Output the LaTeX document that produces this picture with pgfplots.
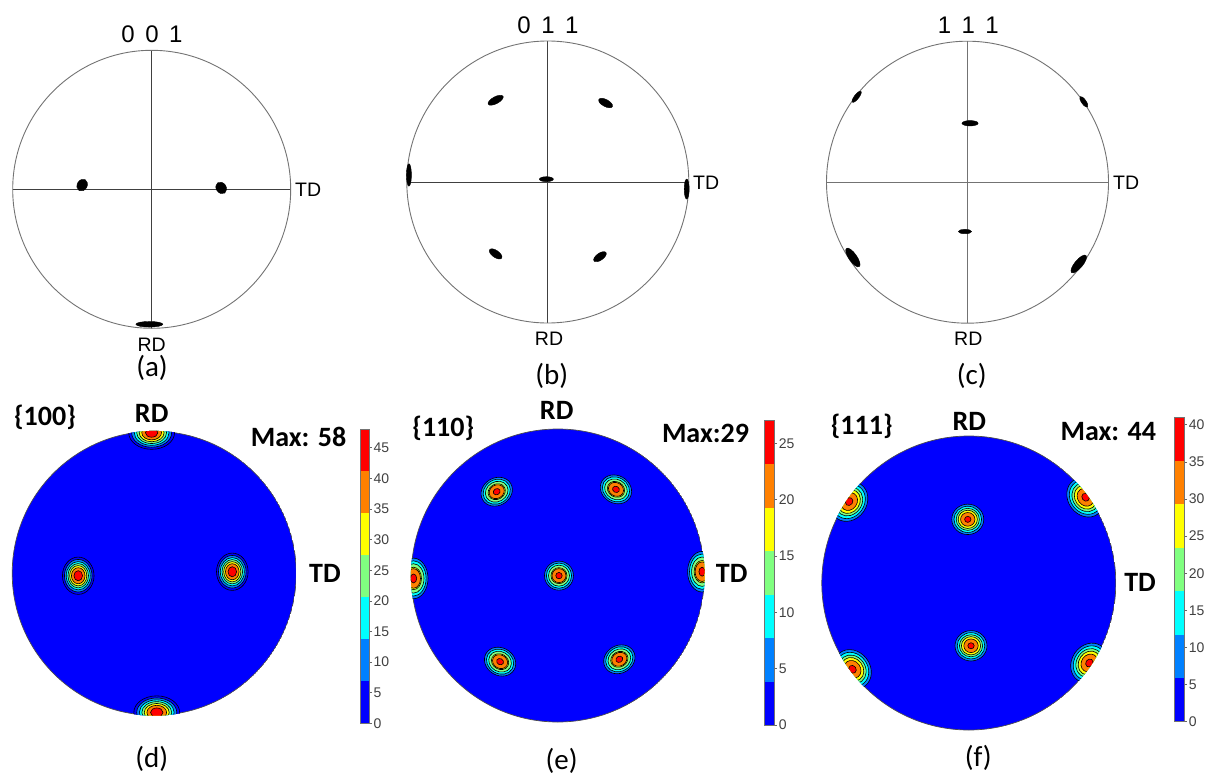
\documentclass[border=0pt]{standalone}
\usepackage{pgfplots}
\pgfplotsset{compat=1.18}
\usepackage{fontspec}
\setmainfont{Liberation Sans}
\newfontfamily\calfont{Carlito}

\definecolor{cA}{RGB}{0,0,255}
\definecolor{cB}{RGB}{0,128,255}
\definecolor{cC}{RGB}{0,255,255}
\definecolor{cD}{RGB}{128,255,128}
\definecolor{cE}{RGB}{255,255,0}
\definecolor{cF}{RGB}{255,128,0}
\definecolor{cG}{RGB}{255,0,0}

\pgfplotsset{
  pole/.style={scale only axis, width=#1pt, height=#1pt, anchor=center,
    xmin=-1, xmax=1, ymin=-1, ymax=1, hide axis, clip=false},
  cbar/.style={scale only axis, anchor=south west, xmin=0, xmax=1, ymin=0,
    xtick=\empty, ytick pos=right, tick align=outside, major tick length=2.5pt,
    axis line style={black!55, line width=0.5pt},
    tick style={black!60, line width=0.5pt},
    yticklabel style={font=\fontsize{14}{16}\selectfont, text=black!75, inner sep=1.5pt},
    /pgf/number format/assume math mode=true, axis on top},
  blob/.style={only marks, mark=*, mark size=#1, mark options={fill=black, draw=black, line width=0.3pt}},
}

% contour rings: #1 = mark transform, #2 = coordinates
\newcommand{\rings}[2]{%
  \addplot[only marks, mark=*, mark size=\rA, mark options={#1, fill=cA, draw=black, line width=0.6pt}] coordinates {#2};
  \addplot[only marks, mark=*, mark size=\rB, mark options={#1, fill=cB, draw=black, line width=0.6pt}] coordinates {#2};
  \addplot[only marks, mark=*, mark size=\rC, mark options={#1, fill=cC, draw=black, line width=0.6pt}] coordinates {#2};
  \addplot[only marks, mark=*, mark size=\rD, mark options={#1, fill=cD, draw=black, line width=0.6pt}] coordinates {#2};
  \addplot[only marks, mark=*, mark size=\rE, mark options={#1, fill=cE, draw=black, line width=0.6pt}] coordinates {#2};
  \addplot[only marks, mark=*, mark size=\rF, mark options={#1, fill=cF, draw=black, line width=0.6pt}] coordinates {#2};
  \addplot[only marks, mark=*, mark size=\rG, mark options={#1, fill=cG, draw=black, line width=0.6pt}] coordinates {#2};
}

\begin{document}
\begin{tikzpicture}
\path[use as bounding box] (0pt,0pt) rectangle (1215pt,-776pt);

% ---------------- (a) 001 ----------------
\begin{axis}[pole=278, at={(151.7pt,-189.3pt)}]
  \addplot[black!75, line width=0.9pt] coordinates {(-1,0) (1,0)};
  \addplot[black!75, line width=0.9pt] coordinates {(0,-1) (0,1)};
  \draw[black!55, line width=0.9pt] (axis cs:0,0) circle[radius=1];
  \addplot[blob=5, mark options={rotate=60, xscale=1.25}] coordinates {(-0.50,0.03)};
  \addplot[blob=5, mark options={rotate=-55, xscale=1.25}] coordinates {(0.50,0.01)};
  \addplot[blob=2.8, mark options={xscale=4.8}] coordinates {(-0.017,-0.971)};
\end{axis}

% ---------------- (b) 011 ----------------
\begin{axis}[pole=282, at={(547.8pt,-182pt)}]
  \addplot[black!75, line width=0.9pt] coordinates {(-1,0) (1,0)};
  \addplot[black!75, line width=0.9pt] coordinates {(0,-1) (0,1)};
  \draw[black!55, line width=0.9pt] (axis cs:0,0) circle[radius=1];
  \addplot[blob=3.5, mark options={rotate=28, xscale=2.4}] coordinates {(-0.37,0.58)};
  \addplot[blob=3.5, mark options={rotate=-28, xscale=2.2}] coordinates {(0.41,0.56)};
  \addplot[blob=2.5, mark options={xscale=2.8}] coordinates {(-0.01,0.02)};
  \addplot[blob=2.5, mark options={yscale=4.5}] coordinates {(-0.985,0.05)};
  \addplot[blob=2.5, mark options={yscale=4}] coordinates {(0.985,-0.05)};
  \addplot[blob=3.5, mark options={rotate=-35, xscale=2.1}] coordinates {(-0.37,-0.51)};
  \addplot[blob=3.5, mark options={rotate=35, xscale=2.1}] coordinates {(0.37,-0.53)};
\end{axis}

% ---------------- (c) 111 ----------------
\begin{axis}[pole=282, at={(967.5pt,-182.2pt)}]
  \addplot[black!55, line width=0.8pt] coordinates {(-1,0) (1,0)};
  \addplot[black!55, line width=0.8pt] coordinates {(0,-1) (0,1)};
  \draw[black!55, line width=0.9pt] (axis cs:0,0) circle[radius=1];
  \addplot[blob=2.3, mark options={rotate=52, xscale=3}] coordinates {(-0.786,0.606)};
  \addplot[blob=2.3, mark options={rotate=-55, xscale=2.8}] coordinates {(0.825,0.57)};
  \addplot[blob=2.7, mark options={xscale=3}] coordinates {(0.018,0.418)};
  \addplot[blob=2.2, mark options={xscale=3}] coordinates {(-0.018,-0.35)};
  \addplot[blob=4, mark options={rotate=-55, xscale=2.8}] coordinates {(-0.813,-0.534)};
  \addplot[blob=4, mark options={rotate=50, xscale=2.8}] coordinates {(0.789,-0.58)};
\end{axis}

% ---------------- (d) {100} ----------------
\def\rA{15.8}\def\rB{13.8}\def\rC{12.0}\def\rD{10.3}\def\rE{8.6}\def\rF{6.8}\def\rG{4.3}
\begin{scope}
\clip (154.2pt,-573.3pt) circle (142.4pt);
\begin{axis}[pole=284, at={(154.2pt,-573.3pt)}]
  \fill[cA] (axis cs:0,0) circle[radius=1];
  \rings{yscale=1.18}{(-0.535,-0.017) (0.55,0.011)}
  \rings{xscale=1.45, yscale=1.05}{(-0.018,0.99) (0.018,-0.98)}
  \draw[black!70, line width=0.7pt] (axis cs:0,0) circle[radius=1];
\end{axis}
\end{scope}

% ---------------- (e) {110} ----------------
\def\rA{1}\def\rB{14.5}\def\rC{12.6}\def\rD{10.5}\def\rE{8.0}\def\rF{7.0}\def\rG{3.2}
\begin{scope}
\clip (557.8pt,-575.5pt) circle (146.9pt);
\begin{axis}[pole=293, at={(557.8pt,-575.5pt)}]
  \fill[cA] (axis cs:0,0) circle[radius=1];
  \rings{scale=1}{(0.008,-0.001)}
  \rings{rotate=30, xscale=1.12, yscale=0.95}{(-0.417,0.572) (0.42,-0.572)}
  \rings{rotate=-30, xscale=1.12, yscale=0.95}{(0.397,0.588) (-0.394,-0.588)}
  \rings{yscale=1.4}{(-0.985,-0.02) (0.985,0.026)}
  \draw[black!70, line width=0.7pt] (axis cs:0,0) circle[radius=1];
\end{axis}
\end{scope}

% ---------------- (f) {111} ----------------
\def\rA{1}\def\rB{16}\def\rC{13.8}\def\rD{11.6}\def\rE{9.6}\def\rF{7.2}\def\rG{3.2}
\begin{scope}
\clip (968.8pt,-583pt) circle (147.4pt);
\begin{axis}[pole=294, at={(968.8pt,-583pt)}]
  \fill[cA] (axis cs:0,0) circle[radius=1];
  \rings{yscale=0.95}{(-0.007,0.433) (0.015,-0.427)}
  \rings{rotate=55, xscale=1.3, yscale=1.1}{(-0.814,0.554)}
  \rings{rotate=-54, xscale=1.3, yscale=1.1}{(0.794,0.583)}
  \rings{rotate=-53, xscale=1.3, yscale=1.1}{(-0.791,-0.587)}
  \rings{rotate=56, xscale=1.3, yscale=1.1}{(0.82,-0.544)}
  \draw[black!70, line width=0.7pt] (axis cs:0,0) circle[radius=1];
\end{axis}
\end{scope}

% ---------------- colour bars ----------------
\begin{axis}[cbar, at={(360pt,-723.3pt)}, width=9.3pt, height=294pt, ymax=48, ytick={0,5,...,45}]
  \addplot[fill=cA, draw=none] coordinates {(0,0) (1,0) (1,6.857) (0,6.857)} -- cycle;
  \addplot[fill=cB, draw=none] coordinates {(0,6.857) (1,6.857) (1,13.714) (0,13.714)} -- cycle;
  \addplot[fill=cC, draw=none] coordinates {(0,13.714) (1,13.714) (1,20.571) (0,20.571)} -- cycle;
  \addplot[fill=cD, draw=none] coordinates {(0,20.571) (1,20.571) (1,27.429) (0,27.429)} -- cycle;
  \addplot[fill=cE, draw=none] coordinates {(0,27.429) (1,27.429) (1,34.286) (0,34.286)} -- cycle;
  \addplot[fill=cF, draw=none] coordinates {(0,34.286) (1,34.286) (1,41.143) (0,41.143)} -- cycle;
  \addplot[fill=cG, draw=none] coordinates {(0,41.143) (1,41.143) (1,48) (0,48)} -- cycle;
\end{axis}

\begin{axis}[cbar, at={(764.3pt,-725pt)}, width=10.4pt, height=304.3pt, ymax=27, ytick={0,5,...,25}]
  \addplot[fill=cA, draw=none] coordinates {(0,0) (1,0) (1,3.857) (0,3.857)} -- cycle;
  \addplot[fill=cB, draw=none] coordinates {(0,3.857) (1,3.857) (1,7.714) (0,7.714)} -- cycle;
  \addplot[fill=cC, draw=none] coordinates {(0,7.714) (1,7.714) (1,11.571) (0,11.571)} -- cycle;
  \addplot[fill=cD, draw=none] coordinates {(0,11.571) (1,11.571) (1,15.429) (0,15.429)} -- cycle;
  \addplot[fill=cE, draw=none] coordinates {(0,15.429) (1,15.429) (1,19.286) (0,19.286)} -- cycle;
  \addplot[fill=cF, draw=none] coordinates {(0,19.286) (1,19.286) (1,23.143) (0,23.143)} -- cycle;
  \addplot[fill=cG, draw=none] coordinates {(0,23.143) (1,23.143) (1,27) (0,27)} -- cycle;
\end{axis}

\begin{axis}[cbar, at={(1174pt,-721.7pt)}, width=10.7pt, height=304.4pt, ymax=41, ytick={0,5,...,40}]
  \addplot[fill=cA, draw=none] coordinates {(0,0) (1,0) (1,5.857) (0,5.857)} -- cycle;
  \addplot[fill=cB, draw=none] coordinates {(0,5.857) (1,5.857) (1,11.714) (0,11.714)} -- cycle;
  \addplot[fill=cC, draw=none] coordinates {(0,11.714) (1,11.714) (1,17.571) (0,17.571)} -- cycle;
  \addplot[fill=cD, draw=none] coordinates {(0,17.571) (1,17.571) (1,23.429) (0,23.429)} -- cycle;
  \addplot[fill=cE, draw=none] coordinates {(0,23.429) (1,23.429) (1,29.286) (0,29.286)} -- cycle;
  \addplot[fill=cF, draw=none] coordinates {(0,29.286) (1,29.286) (1,35.143) (0,35.143)} -- cycle;
  \addplot[fill=cG, draw=none] coordinates {(0,35.143) (1,35.143) (1,41) (0,41)} -- cycle;
\end{axis}

% ---------------- texts ----------------
\tikzset{hd/.style={font=\fontsize{24}{28}\selectfont, inner sep=0pt},
  sm/.style={font=\fontsize{19.5}{22}\selectfont, inner sep=0pt},
  lab/.style={font=\calfont\fontsize{29}{33}\selectfont, inner sep=0pt},
  bd/.style={font=\calfont\bfseries\fontsize{28}{32}\selectfont, inner sep=0pt}}

\node[hd] at (152pt,-34.7pt) {0\hspace{10.5pt}0\hspace{10.5pt}1};
\node[sm, anchor=west] at (295pt,-190pt) {TD};
\node[sm] at (151.7pt,-344.3pt) {RD};
\node[lab] at (152pt,-368.3pt) {(a)};

\node[hd] at (548pt,-25pt) {0\hspace{10.5pt}1\hspace{10.5pt}1};
\node[sm, anchor=west] at (693pt,-182.7pt) {TD};
\node[sm] at (549pt,-339pt) {RD};
\node[lab] at (551.7pt,-375.5pt) {(b)};

\node[hd] at (968.3pt,-25.5pt) {1\hspace{10.5pt}1\hspace{10.5pt}1};
\node[sm, anchor=west] at (1113pt,-182.7pt) {TD};
\node[sm] at (968.3pt,-338.3pt) {RD};
\node[lab] at (971.7pt,-375.5pt) {(c)};

\node[bd] at (45pt,-417.5pt) {\{100\}};
\node[bd] at (151.7pt,-413.3pt) {RD};
\node[bd] at (298.5pt,-436.7pt) {Max: 58};
\node[bd] at (325pt,-573.3pt) {TD};
\node[lab] at (151.7pt,-759pt) {(d)};

\node[bd] at (443.3pt,-428.3pt) {\{110\}};
\node[bd] at (556.7pt,-410pt) {RD};
\node[bd] at (705.5pt,-433.3pt) {Max:29};
\node[bd] at (731.7pt,-573.3pt) {TD};
\node[lab] at (561.7pt,-760.5pt) {(e)};

\node[bd] at (861.7pt,-426.7pt) {\{111\}};
\node[bd] at (969.3pt,-421.7pt) {RD};
\node[bd] at (1108.3pt,-431.7pt) {Max: 44};
\node[bd] at (1140pt,-582.7pt) {TD};
\node[lab] at (978.3pt,-758.3pt) {(f)};
\end{tikzpicture}
\end{document}
